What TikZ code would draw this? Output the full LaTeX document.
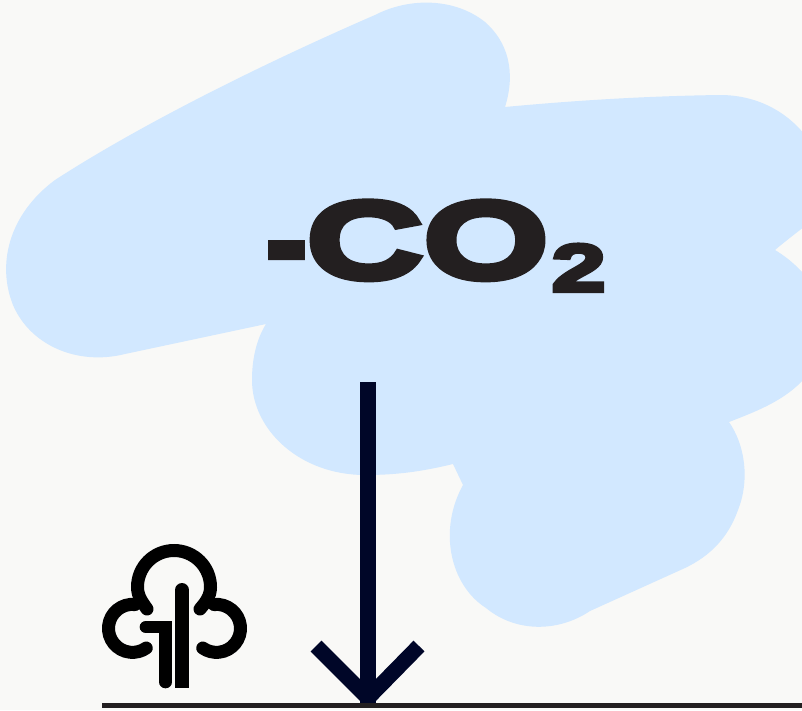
\documentclass[tikz,border=0pt]{standalone}
\usepackage{fontspec}
\newfontfamily\cofont[FakeStretch=1.48,FakeBold=6]{Liberation Sans Bold}
\newfontfamily\dashfont[FakeStretch=1.15,FakeBold=9]{Liberation Sans Bold}
\definecolor{bgc}{HTML}{F9F9F7}
\definecolor{cloudc}{HTML}{D2E8FF}
\definecolor{textc}{HTML}{231F20}
\definecolor{arrowc}{HTML}{000628}
\tikzset{
  px/.style={x=0.75pt,y=-0.75pt},
  icon/.style={line width=9.75pt,line cap=round,black},
}
\begin{document}
\begin{tikzpicture}[px]
\useasboundingbox (0,0) rectangle (802,710);
\fill[bgc] (0,0) rectangle (802,710);
\begin{scope}
\clip (0,0) rectangle (802,710);
\fill[cloudc] (375,15)
 .. controls (410,-3) and (455,-2) .. (485,22)
 .. controls (508,42) and (516,72) .. (505,107)
 .. controls (580,100) and (650,96) .. (720,95)
 .. controls (755,95) and (785,110) .. (805,135)
 -- (805,226)
 .. controls (795,234) and (783,243) .. (775,250)
 .. controls (785,256) and (795,264) .. (805,275)
 -- (805,378)
 .. controls (785,400) and (760,410) .. (729,422)
 .. controls (745,445) and (750,480) .. (738,510)
 .. controls (728,538) and (710,556) .. (685,568)
 -- (590,611)
 .. controls (557,633) and (515,632) .. (486,608)
 .. controls (450,585) and (438,530) .. (463,485)
 -- (453,464)
 .. controls (420,472) and (395,475) .. (365,475)
 .. controls (300,475) and (252,430) .. (252,380)
 .. controls (252,360) and (256,340) .. (266,324)
 -- (125,354)
 .. controls (77,366) and (30,345) .. (13,305)
 .. controls (-3,265) and (8,215) .. (55,180)
 .. controls (140,125) and (260,65) .. (375,15) -- cycle;
\end{scope}
\node[text=textc,inner sep=0pt,anchor=base west,font=\dashfont\fontsize{72pt}{72pt}\selectfont] (dash) at (268,275) {-};
\node[text=textc,inner sep=0pt,anchor=base west,font=\cofont\fontsize{82pt}{82pt}\selectfont] (label) at (306,278) {CO};
\node[text=textc,inner sep=0pt,anchor=base west,font=\cofont\fontsize{50pt}{50pt}\selectfont] (sub) at (551,291) {2};
% tree icon
\draw[icon] (147,609) .. controls (143,603) and (137.5,597) .. (137.5,587)
 arc[start angle=180,end angle=360,radius=36.5] .. controls (210.5,597) and (205,603) .. (200,609);
\draw[icon] (135,604.5) arc[start angle=-84,end angle=-305,radius=24] ;
\draw[icon] (214,604.5) arc[start angle=-96,end angle=125,radius=24];
\draw[line width=10.5pt,line cap=round,black] (182,590) -- (182,680);
\fill[black] (175,670) rectangle (189,688);
\draw[line width=9.5pt,line cap=round,miter limit=10,black] (146,627) -- (165.5,627) -- (165.5,682);
% ground + arrow
\coordinate (gl) at (102,705.5);
\coordinate (gr) at (802,705.5);
\coordinate (top) at (368,382);
\coordinate (tip) at (368,698);
\coordinate (hl) at (316,646);
\coordinate (hr) at (419,646);
\begin{scope}
\clip (300,370) rectangle (440,704);
\draw[line width=12pt,arrowc] (top) -- (368,710);
\draw[line width=11.5pt,arrowc,miter limit=10] (hl) -- (tip) -- (hr);
\end{scope}
\draw[line width=3.8pt,textc] (gl) -- (gr);
\end{tikzpicture}
\end{document}
